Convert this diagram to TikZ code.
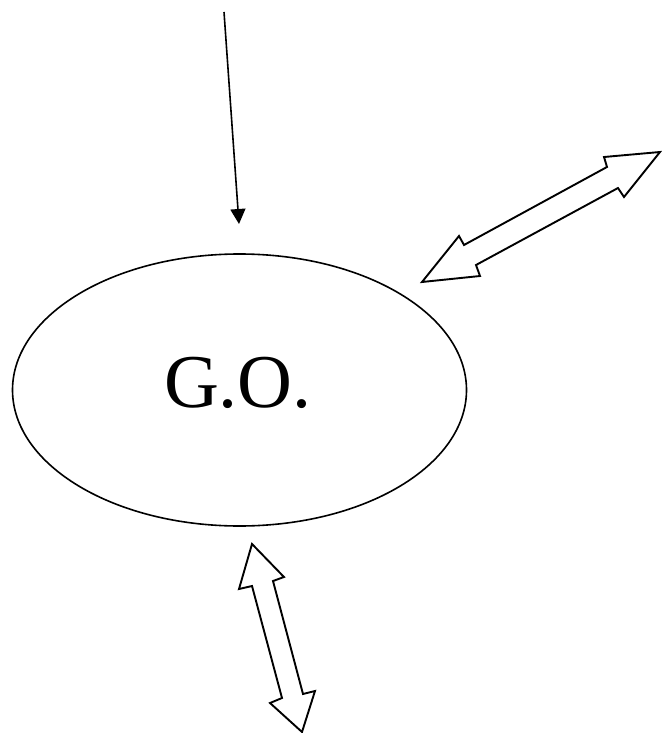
\documentclass[tikz,border=0pt]{standalone}
\usepackage{fontspec}
\setmainfont{Liberation Serif}
\usetikzlibrary{arrows.meta,shapes.geometric}
\tikzset{
  outline/.style={draw=black, line width=1.9pt, line join=miter, fill=white},
  goshape/.style={draw=black, line width=1.6pt, ellipse, minimum width=454pt, minimum height=272pt, inner sep=0pt},
  thinarrow/.style={draw=black, line width=1.6pt, -{Triangle[length=15pt,width=15pt]}}
}
\begin{document}
\begin{tikzpicture}[x=1pt,y=-1pt]
\useasboundingbox (0,0) rectangle (661,733);
\node[goshape] (go) at (239.5,390) {};
\node[font=\fontsize{76}{80}\selectfont, inner sep=0pt, anchor=base] (label) at (238,407) {G.O.};
\coordinate (topstart) at (224,12);
\coordinate (topend) at (239,224);
\draw[thinarrow] (topstart) -- (topend);
% upper right double arrow
\draw[outline] (660,152) -- (624,197) -- (618,188) -- (476,265) -- (480,276) -- (422,282) -- (459,236) -- (464,245) -- (607,167) -- (604,157) -- cycle;
% bottom double arrow
\draw[outline] (252,544) -- (284,577) -- (273,581) -- (303,694) -- (315,691) -- (302,732) -- (270,703) -- (282,698) -- (252,586) -- (239,589) -- cycle;
\end{tikzpicture}
\end{document}
